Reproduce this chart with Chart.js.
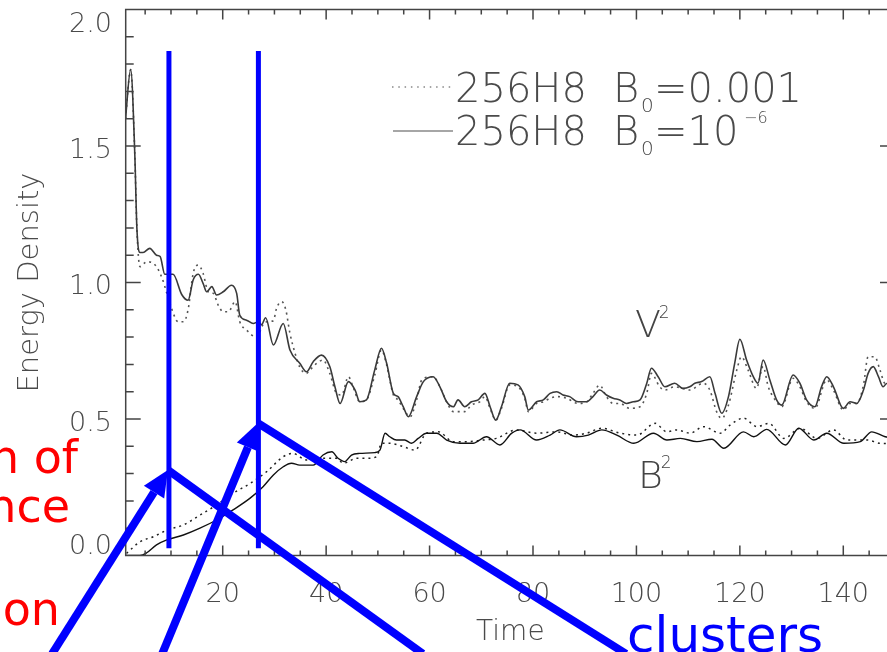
<!DOCTYPE html>
<html>
<head>
<meta charset="utf-8">
<script src="https://cdn.jsdelivr.net/npm/chart.js@4.4.0/dist/chart.umd.min.js"></script>
<style>
    html, body { margin: 0; padding: 0; background: #fff; }
    #wrap { width: 887px; height: 652px; overflow: hidden; position: relative; }
    #wrap canvas { position: absolute; left: 0; top: 0; }
</style>
</head>
<body>
<div id="wrap"><canvas id="energyChart" width="900" height="652"></canvas></div>
<script>
// V^2, run with B0 = 1e-6 (solid)
const v2SolidTime = [1.2, 2.2, 3.0, 3.4, 4.0, 4.6, 5.9, 7.2, 7.9, 8.8, 10.4, 12.1, 13.3, 14.3, 15.3, 16.2, 16.9, 17.9, 18.8, 20.1,
    21.7, 22.7, 23.3, 24.6, 25.9, 26.9, 27.5, 28.3, 29.8, 31.7, 33.0, 34.9, 36.2, 37.5, 39.1, 40.7, 41.7, 42.7, 44.3, 45.6,
    46.5, 47.8, 49.4, 50.7, 51.7, 53.0, 53.9, 54.9, 55.9, 57.5, 58.8, 60.7, 62.0, 63.3, 64.6, 65.5, 66.8, 68.1, 69.4, 70.7,
    71.7, 72.8, 73.9, 75.5, 77.1, 78.4, 79.1, 80.7, 82.0, 83.3, 84.6, 85.8, 87.1, 88.7, 90.4, 91.6, 92.9, 94.2, 95.5, 96.8,
    98.1, 99.4, 100.7, 102.0, 102.9, 104.2, 105.5, 107.4, 109.0, 110.3, 111.3, 112.6, 114.2, 115.2, 116.5, 117.8, 119.0, 120.0, 121.3, 122.6,
    123.5, 124.5, 125.8, 127.1, 128.1, 130.3, 131.6, 132.9, 134.5, 135.8, 136.8, 138.1, 140.0, 141.3, 142.6, 143.9, 144.8, 145.8, 146.8, 147.7,
    148.4, 150];
const v2Solid = [1.60, 1.78, 1.47, 1.20, 1.11, 1.11, 1.125, 1.10, 1.095, 1.03, 1.03, 0.955, 0.935, 1.01, 1.03, 0.997, 0.966, 0.985, 0.954, 0.966,
    0.99, 0.96, 0.88, 0.862, 0.85, 0.856, 0.845, 0.871, 0.771, 0.85, 0.753, 0.704, 0.673, 0.71, 0.734, 0.692, 0.618, 0.557, 0.637, 0.606,
    0.563, 0.57, 0.68, 0.759, 0.704, 0.594, 0.582, 0.545, 0.508, 0.582, 0.637, 0.655, 0.618, 0.563, 0.545, 0.57, 0.545, 0.563, 0.57, 0.594,
    0.545, 0.496, 0.545, 0.631, 0.625, 0.582, 0.533, 0.563, 0.57, 0.594, 0.60, 0.588, 0.582, 0.563, 0.563, 0.582, 0.606, 0.588, 0.576, 0.57,
    0.557, 0.563, 0.57, 0.631, 0.686, 0.655, 0.618, 0.631, 0.612, 0.618, 0.631, 0.637, 0.655, 0.594, 0.521, 0.582, 0.704, 0.792, 0.716, 0.655,
    0.631, 0.716, 0.643, 0.57, 0.551, 0.661, 0.631, 0.57, 0.545, 0.618, 0.655, 0.618, 0.539, 0.563, 0.557, 0.606, 0.667, 0.692, 0.655, 0.618,
    0.63, 0.62];

// V^2, run with B0 = 0.001 (dotted)
const v2DotTime = [1.2, 2.2, 3.0, 3.4, 4.0, 5.3, 6.6, 8.2, 9.2, 10.1, 11.4, 12.4, 13.3, 14.3, 15.3, 16.2, 17.2, 18.2, 19.1, 20.1,
    21.1, 22.4, 23.3, 24.6, 26.5, 28.2, 29.8, 30.4, 31.4, 32.2, 33.0, 34.0, 34.9, 36.2, 36.9, 38.2, 39.4, 40.7, 42.0, 43.0,
    44.3, 45.2, 46.5, 47.8, 49.4, 50.7, 51.7, 53.0, 53.9, 55.3, 56.2, 57.5, 58.5, 60.7, 62.0, 63.3, 64.6, 66.8, 68.1, 69.7,
    70.7, 71.7, 72.8, 73.9, 75.5, 77.1, 78.4, 79.1, 80.7, 82.0, 83.3, 84.6, 86.5, 88.7, 90.4, 91.6, 92.9, 94.2, 95.5, 96.8,
    98.7, 100.7, 102.0, 102.9, 104.5, 105.5, 107.4, 110.3, 112.9, 114.2, 115.5, 116.5, 117.8, 119.4, 120.3, 121.6, 123.2, 124.5, 125.5, 127.1,
    128.1, 130.3, 131.6, 132.9, 134.5, 136.8, 138.1, 140.0, 141.3, 142.6, 143.9, 144.8, 146.1, 147.1, 148.0, 150];
const v2Dot = [1.60, 1.78, 1.47, 1.20, 1.058, 1.076, 1.07, 1.02, 0.96, 0.905, 0.856, 0.856, 0.90, 1.034, 1.064, 1.034, 0.966, 0.96, 0.918, 0.893,
    0.893, 0.93, 0.856, 0.826, 0.80, 0.855, 0.86, 0.905, 0.93, 0.90, 0.814, 0.74, 0.69, 0.667, 0.68, 0.704, 0.716, 0.667, 0.594, 0.588,
    0.655, 0.618, 0.563, 0.57, 0.661, 0.753, 0.698, 0.588, 0.57, 0.527, 0.508, 0.57, 0.643, 0.655, 0.618, 0.563, 0.527, 0.527, 0.551, 0.563,
    0.582, 0.539, 0.496, 0.539, 0.625, 0.618, 0.576, 0.527, 0.557, 0.563, 0.576, 0.582, 0.576, 0.557, 0.563, 0.594, 0.624, 0.582, 0.557, 0.557,
    0.539, 0.545, 0.594, 0.667, 0.618, 0.606, 0.618, 0.606, 0.631, 0.606, 0.527, 0.502, 0.551, 0.679, 0.728, 0.679, 0.612, 0.692, 0.618, 0.563,
    0.545, 0.649, 0.618, 0.563, 0.539, 0.643, 0.606, 0.533, 0.557, 0.557, 0.624, 0.728, 0.728, 0.679, 0.631, 0.62];

// B^2, run with B0 = 1e-6 (solid)
const b2SolidTime = [1.2, 4.0, 5.3, 7.2, 9.2, 12.4, 15.6, 18.8, 22.0, 25.3, 27.8, 29.8, 31.7, 33.3, 34.9, 37.5, 39.4, 41.1, 42.3, 43.6,
    44.9, 46.5, 49.4, 50.4, 51.4, 52.3, 53.6, 55.2, 56.5, 57.8, 59.4, 61.4, 63.3, 65.9, 68.4, 71.0, 73.6, 75.9, 77.5, 80.7,
    83.3, 85.2, 88.4, 90.7, 93.3, 96.2, 99.5, 103.3, 105.9, 108.5, 111.7, 114.6, 116.9, 120.7, 122.7, 125.2, 128.8, 131.4, 134.3, 136.8,
    140.1, 143.3, 145.5, 148.1, 150];
const b2Solid = [0.0, 0.0, 0.01, 0.039, 0.057, 0.075, 0.10, 0.13, 0.167, 0.21, 0.252, 0.295, 0.325, 0.338, 0.331, 0.331, 0.368, 0.38, 0.356, 0.344,
    0.368, 0.374, 0.377, 0.386, 0.448, 0.435, 0.423, 0.423, 0.411, 0.429, 0.448, 0.448, 0.423, 0.411, 0.411, 0.435, 0.405, 0.448, 0.46, 0.423,
    0.441, 0.46, 0.435, 0.441, 0.46, 0.441, 0.411, 0.448, 0.423, 0.429, 0.417, 0.426, 0.393, 0.453, 0.435, 0.462, 0.405, 0.466, 0.423, 0.448,
    0.411, 0.417, 0.453, 0.435, 0.43];

// B^2, run with B0 = 0.001 (dotted)
const b2DotTime = [1.4, 4.0, 6.6, 9.2, 12.4, 15.6, 18.8, 22.0, 25.3, 28.5, 31.7, 33.6, 36.2, 39.4, 42.0, 43.3, 45.9, 47.8, 49.8, 50.7,
    52.3, 54.9, 57.2, 59.4, 61.7, 64.6, 67.2, 70.4, 72.9, 76.8, 80.7, 84.6, 87.8, 90.4, 93.3, 96.9, 100.1, 103.6, 105.9, 107.8,
    110.4, 113.0, 116.2, 118.1, 120.7, 123.3, 125.6, 128.5, 131.7, 134.9, 138.1, 140.7, 144.6, 147.1, 150];
const b2Dot = [0.008, 0.05, 0.069, 0.093, 0.112, 0.148, 0.185, 0.228, 0.264, 0.307, 0.362, 0.374, 0.35, 0.356, 0.356, 0.338, 0.356, 0.356, 0.362, 0.411,
    0.411, 0.399, 0.386, 0.448, 0.453, 0.417, 0.417, 0.423, 0.429, 0.46, 0.448, 0.453, 0.441, 0.448, 0.466, 0.448, 0.441, 0.484, 0.453, 0.46,
    0.448, 0.472, 0.448, 0.478, 0.503, 0.472, 0.484, 0.429, 0.466, 0.429, 0.46, 0.423, 0.423, 0.411, 0.41];

const yTickValues = [0, 0.5, 1.0, 1.5, 2.0];
const xTickValues = [20, 40, 60, 80, 100, 120, 140];

const toPoints = (ts, vs) => ts.map((t, i) => ({ x: t, y: vs[i] }));

const thinFont = (px) => '200 ' + px + 'px "DejaVu Sans"';

// blue / red slide annotations, in data units (time, energy)
const blueBars = [[9.6, 0.027, 9.6, 1.848], [26.9, 0.027, 26.9, 1.848]];
const blueArrows = [[-13.0, -0.36, 9.4, 0.313], [8.3, -0.36, 26.8, 0.485]];
const blueLines = [[9.4, 0.313, 58.7, -0.36], [26.8, 0.485, 98.0, -0.36]];

function drawArrow(ctx, x0, y0, x1, y1) {
    const ang = Math.atan2(y1 - y0, x1 - x0);
    const hl = 26, hw = 12;
    const bx = x1 - hl * Math.cos(ang), by = y1 - hl * Math.sin(ang);
    ctx.beginPath();
    ctx.moveTo(x0, y0);
    ctx.lineTo(bx, by);
    ctx.stroke();
    ctx.beginPath();
    ctx.moveTo(x1, y1);
    ctx.lineTo(bx + hw * Math.sin(ang), by - hw * Math.cos(ang));
    ctx.lineTo(bx - hw * Math.sin(ang), by + hw * Math.cos(ang));
    ctx.closePath();
    ctx.fill();
}

const framePlugin = {
    id: 'idlFrame',
    afterDraw(chart) {
        const { ctx, chartArea: a, scales: { x, y } } = chart;
        ctx.save();

        // box + inward ticks
        ctx.strokeStyle = '#444';
        ctx.lineWidth = 1.5;
        ctx.strokeRect(a.left, a.top, a.right - a.left, a.bottom - a.top);
        ctx.beginPath();
        for (let t = 5; t <= 150; t += 5) {
            const px = x.getPixelForValue(t);
            const len = t % 20 === 0 ? 10 : 5;
            ctx.moveTo(px, a.bottom); ctx.lineTo(px, a.bottom - len);
            ctx.moveTo(px, a.top); ctx.lineTo(px, a.top + len);
        }
        for (let i = 1; i < 20; i++) {
            const py = y.getPixelForValue(i / 10);
            const len = i % 5 === 0 ? 15 : 8;
            ctx.moveTo(a.left, py); ctx.lineTo(a.left + len, py);
            ctx.moveTo(a.right, py); ctx.lineTo(a.right - len, py);
        }
        ctx.stroke();

        // tick labels
        ctx.fillStyle = '#4a4a4a';
        ctx.font = thinFont(27);
        ctx.textBaseline = 'alphabetic';
        ctx.textAlign = 'right';
        yTickValues.forEach(v => {
            let py = y.getPixelForValue(v) + 11.5;
            py = Math.min(Math.max(py, 32), 554);
            ctx.fillText(v.toFixed(1), 112, py);
        });
        ctx.textAlign = 'center';
        xTickValues.forEach(t => {
            ctx.fillText(String(t), x.getPixelForValue(t), 602);
        });

        // axis titles
        ctx.font = thinFont(28);
        ctx.fillText('Time', (a.left + a.right) / 2, 640);
        ctx.save();
        ctx.translate(38, (a.top + a.bottom) / 2);
        ctx.rotate(-Math.PI / 2);
        ctx.font = thinFont(29);
        ctx.fillText('Energy Density', 0, 0);
        ctx.restore();

        // legend
        ctx.strokeStyle = '#888';
        ctx.lineWidth = 1.5;
        ctx.setLineDash([1.5, 4.8]);
        ctx.beginPath(); ctx.moveTo(392, 87); ctx.lineTo(453, 87); ctx.stroke();
        ctx.setLineDash([]);
        ctx.beginPath(); ctx.moveTo(393, 131); ctx.lineTo(453, 131); ctx.stroke();
        ctx.textAlign = 'left';
        ctx.font = thinFont(40);
        ctx.fillText('256H8', 455, 102);
        ctx.fillText('B', 613, 102);
        ctx.fillText('=0.001', 654, 102);
        ctx.fillText('256H8', 455, 145);
        ctx.fillText('B', 613, 145);
        ctx.fillText('=10', 654, 145);
        ctx.font = thinFont(20);
        ctx.fillText('0', 641, 112);
        ctx.fillText('0', 641, 155);
        ctx.font = thinFont(16);
        ctx.fillText('\u22126', 744, 123);

        // curve labels
        ctx.fillStyle = '#444';
        ctx.font = thinFont(38);
        ctx.fillText('V', x.getPixelForValue(99.7), y.getPixelForValue(0.80));
        ctx.fillText('B', x.getPixelForValue(100.3), y.getPixelForValue(0.247));
        ctx.font = thinFont(17);
        ctx.fillText('2', x.getPixelForValue(104.3), y.getPixelForValue(0.87));
        ctx.fillText('2', x.getPixelForValue(104.7), y.getPixelForValue(0.32));

        // blue overlay
        ctx.strokeStyle = '#0000ff';
        ctx.fillStyle = '#0000ff';
        ctx.lineCap = 'butt';
        ctx.lineWidth = 5;
        blueBars.forEach(([t0, v0, t1, v1]) => {
            ctx.beginPath();
            ctx.moveTo(x.getPixelForValue(t0), y.getPixelForValue(v0));
            ctx.lineTo(x.getPixelForValue(t1), y.getPixelForValue(v1));
            ctx.stroke();
        });
        ctx.lineWidth = 8;
        blueLines.forEach(([t0, v0, t1, v1]) => {
            ctx.beginPath();
            ctx.moveTo(x.getPixelForValue(t0), y.getPixelForValue(v0));
            ctx.lineTo(x.getPixelForValue(t1), y.getPixelForValue(v1));
            ctx.stroke();
        });
        blueArrows.forEach(([t0, v0, t1, v1]) => {
            drawArrow(ctx, x.getPixelForValue(t0), y.getPixelForValue(v0),
                x.getPixelForValue(t1), y.getPixelForValue(v1));
        });

        ctx.font = '50px "DejaVu Sans"';
        ctx.fillText('clusters', 627, 652);
        ctx.fillStyle = '#ff0000';
        ctx.font = '46px "DejaVu Sans"';
        ctx.textAlign = 'right';
        ctx.fillText('n of', 78, 473);
        ctx.fillText('nce', 70, 522);
        ctx.fillText('on', 60, 625);

        ctx.restore();
    }
};

const config = {
    type: 'line',
    data: {
        datasets: [
            {
                label: 'V2 B0=1e-6',
                data: toPoints(v2SolidTime, v2Solid),
                borderColor: '#3a3a3a',
                borderWidth: 1.6,
                pointRadius: 0,
                cubicInterpolationMode: 'monotone'
            },
            {
                label: 'V2 B0=0.001',
                data: toPoints(v2DotTime, v2Dot),
                borderColor: '#555',
                borderWidth: 1.6,
                borderDash: [2, 4],
                pointRadius: 0,
                cubicInterpolationMode: 'monotone'
            },
            {
                label: 'B2 B0=1e-6',
                data: toPoints(b2SolidTime, b2Solid),
                borderColor: '#111',
                borderWidth: 1.4,
                pointRadius: 0,
                cubicInterpolationMode: 'monotone'
            },
            {
                label: 'B2 B0=0.001',
                data: toPoints(b2DotTime, b2Dot),
                borderColor: '#222',
                borderWidth: 1.5,
                borderDash: [2, 4],
                pointRadius: 0,
                cubicInterpolationMode: 'monotone'
            }
        ]
    },
    options: {
        responsive: false,
        animation: false,
        devicePixelRatio: 1,
        layout: { padding: { top: 9.5, right: 5, left: 0, bottom: 0 } },
        plugins: { legend: { display: false }, tooltip: { enabled: false } },
        scales: {
            x: {
                type: 'linear',
                min: 1.24,
                max: 150,
                grid: { display: false },
                border: { display: false },
                ticks: { display: false },
                afterFit: (s) => { s.height = 96.5; }
            },
            y: {
                min: 0,
                max: 2,
                grid: { display: false },
                border: { display: false },
                ticks: { display: false },
                afterFit: (s) => { s.width = 125.7; }
            }
        }
    },
    plugins: [framePlugin]
};

var energyChart = new Chart(
    document.getElementById('energyChart'),
    config
);
</script>
</body>
</html>
